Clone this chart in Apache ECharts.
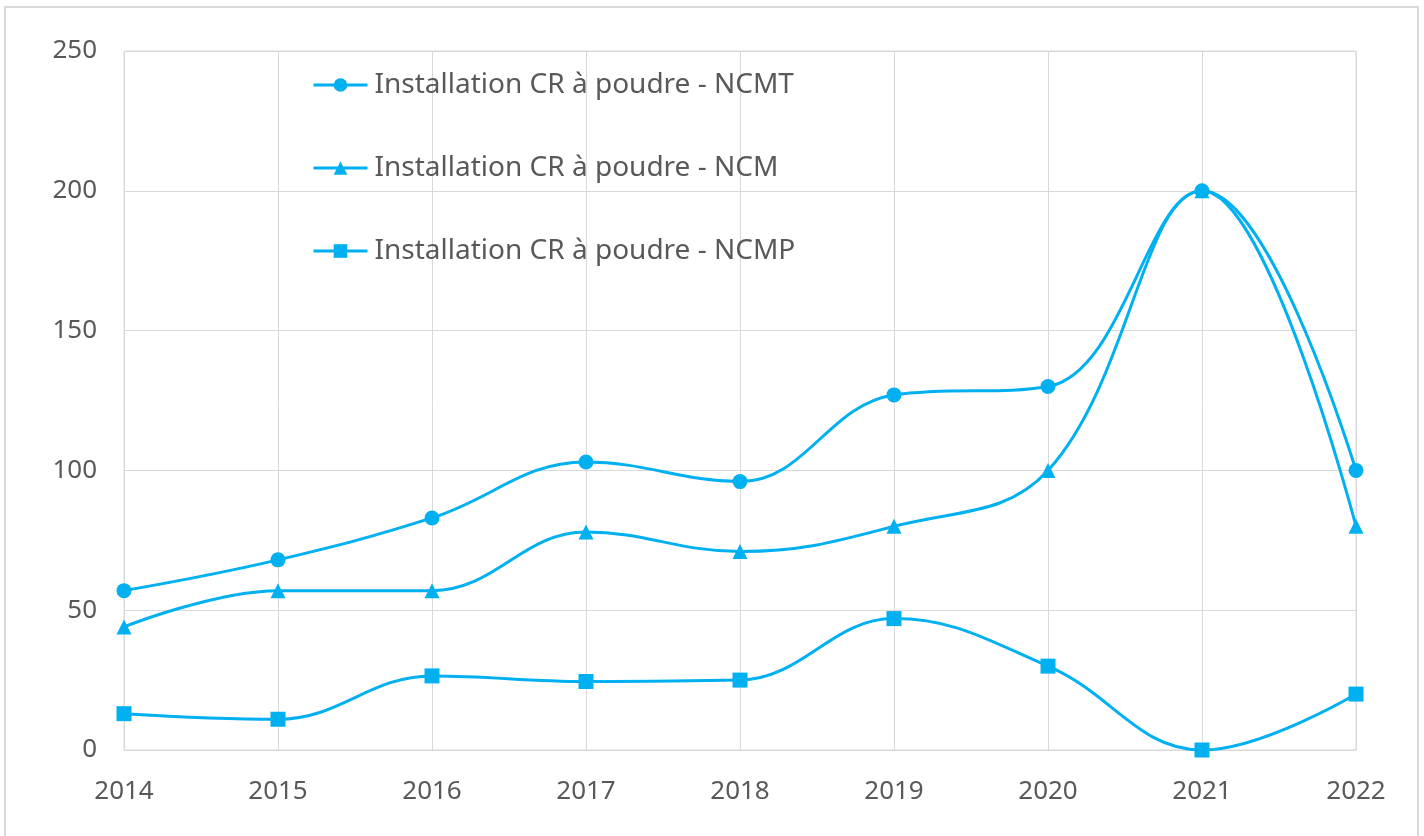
<!DOCTYPE html>
<html>
<head>
<meta charset="utf-8">
<script src="https://cdn.jsdelivr.net/npm/echarts@6/dist/echarts.min.js"></script>
<style>
  html, body { margin: 0; padding: 0; background: #fff; }
  #chart { width: 1424px; height: 836px; }
</style>
</head>
<body>
<div id="chart"></div>
<script>
const years = ['2014', '2015', '2016', '2017', '2018', '2019', '2020', '2021', '2022']
const ncmt = [57, 68, 83, 103, 96, 127, 130, 200, 100]
const ncm = [44, 57, 57, 78, 71, 80, 100, 200, 80]
const ncmp = [13, 11, 26.5, 24.5, 25, 47, 30, 0, 20]

const blue = '#00B0F0'
const textColor = '#595959'
const gridColor = '#d9d9d9'
const font = 'Noto Sans'

function makeSeries(name, symbol, data) {
  return {
    name: name,
    type: 'line',
    data: data,
    smooth: 0.4,
    symbol: symbol,
    symbolSize: 15,
    showAllSymbol: true,
    lineStyle: { color: blue, width: 3 },
    itemStyle: { color: blue },
    emphasis: { disabled: true }
  }
}

const chart = echarts.init(document.getElementById('chart'))
chart.setOption({
  backgroundColor: '#fff',
  animation: false,
  graphic: [{
    type: 'rect',
    shape: { x: 5, y: 7, width: 1413, height: 840 },
    style: { fill: 'none', stroke: gridColor, lineWidth: 2 },
    silent: true
  }],
  grid: {
    left: 124,
    right: 68,
    top: 51,
    bottom: 86,
    show: true,
    borderColor: gridColor,
    borderWidth: 1,
    containLabel: false
  },
  legend: {
    orient: 'vertical',
    left: 307,
    top: 66,
    itemWidth: 54,
    itemHeight: 17,
    itemGap: 55,
    lineStyle: { width: 3 },
    textStyle: { color: textColor, fontSize: 28, fontFamily: font, lineHeight: 24, padding: [0, 0, 0, 2] },
    data: ['Installation CR à poudre - NCMT', 'Installation CR à poudre - NCM', 'Installation CR à poudre - NCMP']
  },
  xAxis: {
    type: 'category',
    data: years,
    boundaryGap: false,
    axisLine: { lineStyle: { color: gridColor, width: 1 } },
    axisTick: { show: false },
    splitLine: { show: true, lineStyle: { color: gridColor, width: 1 } },
    axisLabel: { color: textColor, fontSize: 26, fontFamily: font, margin: 29 }
  },
  yAxis: {
    type: 'value',
    min: 0,
    max: 250,
    interval: 50,
    axisLine: { show: false },
    axisTick: { show: false },
    splitLine: { lineStyle: { color: gridColor, width: 1 } },
    axisLabel: { color: textColor, fontSize: 26, fontFamily: font, margin: 27 }
  },
  series: [
    makeSeries('Installation CR à poudre - NCMT', 'circle', ncmt),
    makeSeries('Installation CR à poudre - NCM', 'triangle', ncm),
    makeSeries('Installation CR à poudre - NCMP', 'rect', ncmp)
  ]
})
</script>
</body>
</html>
